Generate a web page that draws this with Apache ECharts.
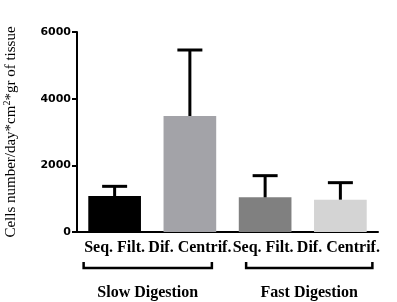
<!DOCTYPE html>
<html>
<head>
<meta charset="utf-8">
<script src="https://cdn.jsdelivr.net/npm/echarts@6/dist/echarts.min.js"></script>
<style>
  html, body { margin: 0; padding: 0; background: #fff; }
  #chart { width: 397px; height: 302px; }
</style>
</head>
<body>
<div id="chart"></div>
<script>
var categories = ["Seq. Filt.", "Dif. Centrif.", "Seq. Filt. ", "Dif. Centrif. "];
var means = [1080, 3480, 1040, 970];
var errTops = [1370, 5460, 1690, 1480];
var barColors = ["#000000", "#a3a3a8", "#808080", "#d4d4d4"];
var groups = ["Slow Digestion", "Fast Digestion"];
var groupSpan = [[0, 1], [2, 3]];
// bracket overhang left/right of the outer tick positions
var groupPad = [[31, 22], [19, 32]];

var chart = echarts.init(document.getElementById("chart"));

var serif = "'Liberation Serif', 'DejaVu Serif', serif";

chart.setOption({
  animation: false,
  grid: { left: 77, right: 19, top: 32, bottom: 70, outerBoundsMode: "none" },
  xAxis: {
    type: "category",
    data: categories,
    axisLine: { lineStyle: { color: "#000", width: 2 } },
    axisTick: { alignWithLabel: true, length: 5, lineStyle: { color: "#000", width: 2 } },
    axisLabel: {
      interval: 0, margin: 8, color: "#000",
      fontFamily: serif, fontWeight: "bold", fontSize: 16
    }
  },
  yAxis: {
    type: "value",
    min: 0, max: 6000, interval: 2000,
    splitLine: { show: false },
    axisLine: { show: true, lineStyle: { color: "#000", width: 2 } },
    axisTick: { show: true, length: 5, lineStyle: { color: "#000", width: 2 } },
    axisLabel: {
      color: "#000", fontFamily: "'DejaVu Sans', sans-serif", fontWeight: "bold", fontSize: 11, margin: 6,
      formatter: function (v) { return String(v); }
    },
    name: "{a|Cells number/day*cm}{s|2}{a|*gr of tissue}",
    nameLocation: "middle",
    nameRotate: 90,
    nameGap: 57,
    nameTextStyle: {
      rich: {
        a: { fontFamily: serif, fontSize: 15, color: "#000" },
        s: { fontFamily: serif, fontSize: 10, color: "#000", verticalAlign: "bottom", padding: [0, 0, 8, 0] }
      }
    }
  },
  series: [
    {
      type: "bar",
      barWidth: "70%",
      data: means.map(function (v, i) {
        return { value: v, itemStyle: { color: barColors[i] } };
      })
    },
    {
      type: "custom",
      z: 3,
      data: means.map(function (v, i) { return [i, v, errTops[i]]; }),
      renderItem: function (params, api) {
        var base = api.coord([api.value(0), api.value(1)]);
        var top = api.coord([api.value(0), api.value(2)]);
        var hw = 12.5;
        var st = { stroke: "#000", lineWidth: 3 };
        return {
          type: "group",
          children: [
            { type: "line", shape: { x1: base[0], y1: base[1], x2: top[0], y2: top[1] }, style: st },
            { type: "line", shape: { x1: top[0] - hw, y1: top[1], x2: top[0] + hw, y2: top[1] }, style: st }
          ]
        };
      }
    }
  ]
});

// group brackets under the category labels
var graphics = [];
groupSpan.forEach(function (span, g) {
  var x1 = chart.convertToPixel({ xAxisIndex: 0 }, span[0]) - groupPad[g][0];
  var x2 = chart.convertToPixel({ xAxisIndex: 0 }, span[1]) + groupPad[g][1];
  var yTop = 262, yBot = 268;
  graphics.push({
    type: "polyline",
    shape: { points: [[x1, yTop], [x1, yBot], [x2, yBot], [x2, yTop]] },
    style: { stroke: "#000", lineWidth: 2.5, fill: null }
  });
  graphics.push({
    type: "text",
    x: (x1 + x2) / 2, y: 293,
    style: {
      text: groups[g], fill: "#000", align: "center", verticalAlign: "middle",
      font: "bold 16px " + serif
    }
  });
});
chart.setOption({ graphic: graphics });
</script>
</body>
</html>
